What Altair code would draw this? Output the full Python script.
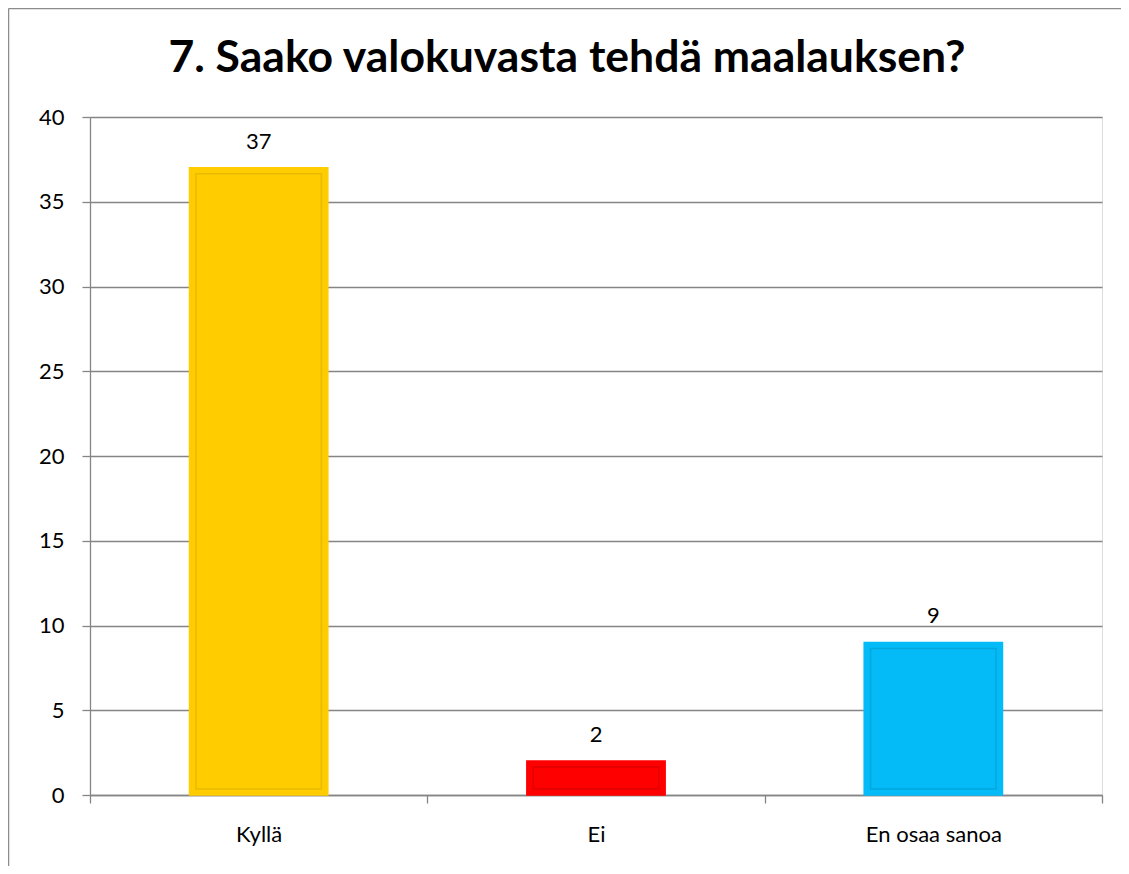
import altair as alt
import pandas as pd

categories = ["Kyllä", "Ei", "En osaa sanoa"]
values = [37, 2, 9]
fills = ["#FFCC00", "#FE0000", "#04BBF8"]
inner_strokes = ["#D9AD00", "#CC0000", "#0399C9"]
y_ticks = [0, 5, 10, 15, 20, 25, 30, 35, 40]

df = pd.DataFrame({"cat": categories, "val": values, "fill": fills, "inner": inner_strokes})

FONT = "Lato"
GRAY = "#858585"
W, H = 1012, 678

x_enc = alt.X("cat:N", sort=categories, title=None,
              scale=alt.Scale(paddingInner=0, paddingOuter=0),
              axis=alt.Axis(labelAngle=0, labelFontSize=22, labelFont=FONT, labelColor="#000000",
                            tickBand="extent", tickSize=8, tickColor=GRAY, domainColor=GRAY,
                            tickWidth=1.3, domainWidth=1.3,
                            labelPadding=21, grid=False))
y_enc = alt.Y("val:Q", title=None,
              scale=alt.Scale(domain=[0, 40], nice=False),
              axis=alt.Axis(values=y_ticks, labelFontSize=22, labelFont=FONT, labelColor="#000000",
                            tickSize=8, tickColor=GRAY, domainColor=GRAY, gridColor=GRAY,
                            tickWidth=1.3, domainWidth=1.3, gridWidth=1.3,
                            grid=True, labelPadding=18))

base = alt.Chart(df)

bars = base.mark_bar(width={"band": 0.41}, strokeWidth=1.5).encode(
    x=x_enc, y=y_enc,
    fill=alt.Fill("fill:N", scale=None),
    stroke=alt.Stroke("fill:N", scale=None),
)

inner = base.mark_bar(width={"band": 0.372}, fillOpacity=0, strokeWidth=1.5,
                      strokeOpacity=0.6, yOffset=6, y2Offset=-6).encode(
    x=alt.X("cat:N", sort=categories),
    y=alt.Y("val:Q"),
    y2=alt.datum(0),
    stroke=alt.Stroke("inner:N", scale=None),
)

labels = base.mark_text(font=FONT, fontSize=22, baseline="alphabetic", dy=-19, color="#000000").encode(
    x=alt.X("cat:N", sort=categories),
    y=alt.Y("val:Q"),
    text=alt.Text("val:Q"),
)

border_left = alt.Chart(pd.DataFrame({"k": [0]})).mark_rule(color="#8C8C8C", strokeWidth=1.5).encode(
    x=alt.value(-81.5), y=alt.value(-108.5), y2=alt.value(H + 71))
border_top = alt.Chart(pd.DataFrame({"k": [0]})).mark_rule(color="#8C8C8C", strokeWidth=1.5).encode(
    x=alt.value(-81.5), x2=alt.value(W + 19), y=alt.value(-108.5))

chart = alt.layer(bars, inner, labels, border_left, border_top).properties(
    width=W, height=H,
    title=alt.TitleParams("7. Saako valokuvasta tehdä maalauksen?", font=FONT, fontSize=44.5,
                          fontWeight="bold", color="#000000", anchor="middle", dx=-29,
                          baseline="alphabetic", offset=0, dy=109),
    autosize=alt.AutoSizeParams(type="none"),
    padding={"left": 82, "top": 109, "right": 19, "bottom": 71},
).configure_view(stroke=None).configure(background="white")

chart.save("out.html", embed_options={"renderer": "svg", "actions": False})
